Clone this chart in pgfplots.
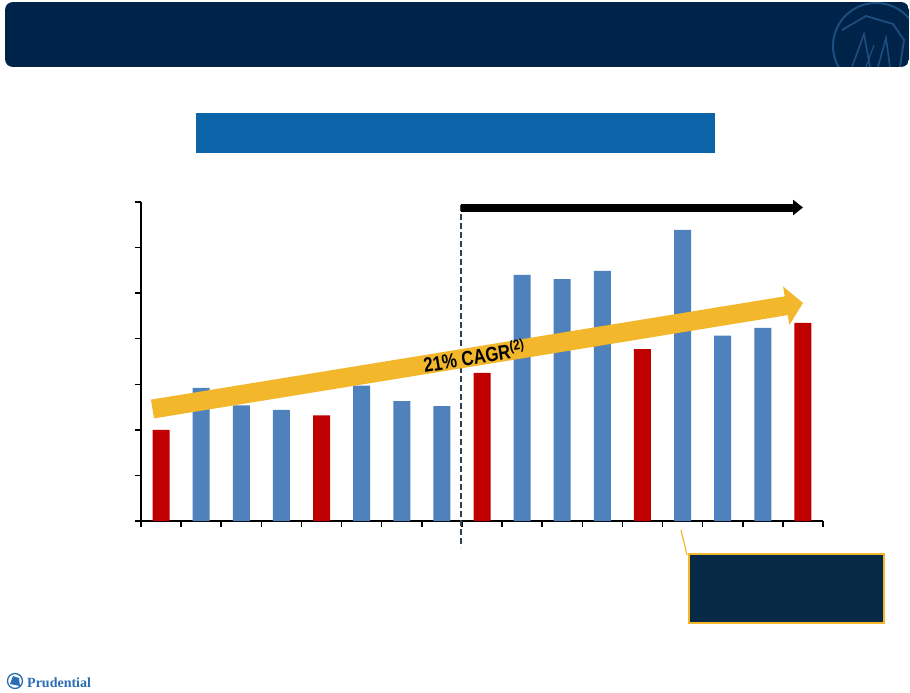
\documentclass[border=0pt]{standalone}
\usepackage{pgfplots}
\pgfplotsset{compat=1.18}
\usepackage{fontspec}
\setmainfont{Liberation Sans}
\newfontfamily\serifb{Liberation Serif}
\usetikzlibrary{arrows.meta}
\definecolor{navy}{HTML}{00234A}
\definecolor{boxblue}{HTML}{0B64A8}
\definecolor{barred}{HTML}{C00000}
\definecolor{barblue}{HTML}{4F81BD}
\definecolor{gold}{HTML}{F2B72A}
\definecolor{slate}{HTML}{2E4154}
\definecolor{callout}{HTML}{062A45}
\definecolor{logoblue}{HTML}{1D4E7E}
\definecolor{prublue}{HTML}{2A6EB4}
\begin{document}
\begin{tikzpicture}[x=1pt,y=1pt]
\path[use as bounding box,fill=white] (0,0) rectangle (910,-693);
% banner
\begin{scope}
\path[clip,rounded corners=8pt] (5,-2) rectangle (909,-67);
\fill[navy] (5,-2) rectangle (909,-67);
\draw[logoblue,line width=2pt] (876,-46) circle (43);
\draw[logoblue,line width=1.8pt] (842,-30) -- (866,-16) -- (893,-24) -- (904,-40) -- (900,-67);
\draw[logoblue,line width=1.6pt] (852,-67) -- (864,-34) -- (870,-67);
\draw[logoblue,line width=1.6pt] (878,-67) -- (886,-38) -- (890,-67);
\draw[logoblue,line width=1.2pt] (866,-67) -- (874,-45);
\end{scope}
% blue title box
\fill[boxblue] (196,-113) rectangle (715,-153);
\begin{axis}[
  at={(141pt,-521pt)}, anchor=south west,
  width=682pt, height=319pt, scale only axis,
  xmin=0, xmax=17, ymin=0, ymax=7,
  axis lines=left, axis line style={-, black, line width=1.8pt},
  xtick={0,1,...,17}, ytick={0,1,...,7},
  xticklabels={}, yticklabels={},
  tick align=outside, tick style={black, line width=1.5pt},
  major tick length=6pt,
  ybar, bar width=17pt, bar shift=0pt,
  clip=false,
]
\addplot[fill=barred, draw=none] coordinates {
 (0.5,2.00) (4.5,2.32) (8.5,3.25) (12.5,3.77) (16.5,4.35)};
\addplot[fill=barblue, draw=none] coordinates {
 (1.5,2.92) (2.5,2.54) (3.5,2.44) (5.5,2.97) (6.5,2.63) (7.5,2.52)
 (9.5,5.40) (10.5,5.31) (11.5,5.49) (13.5,6.39) (14.5,4.07) (15.5,4.24)};
\end{axis}
% dashed divider
\draw[slate, line width=2pt, dash pattern=on 6pt off 3pt] (461,-205) -- (461,-547);
% black arrow
\draw[black, line width=8pt, -{Triangle[width=15pt,length=10pt]}] (461,-207.5) -- (803,-207.5);
% gold CAGR arrow
\draw[gold, line width=19pt, -{Triangle[width=38pt,length=17pt]}] (152.5,-409) -- (803,-303);
\node[rotate=9.2, inner sep=0pt] at (474,-356) {\scalebox{0.82}[1]{\bfseries\fontsize{20.5}{22}\selectfont 21\% CAGR\textsuperscript{(2)}}};
% callout
\draw[gold, line width=1.2pt] (681,-530) -- (687,-555);
\draw[gold, line width=2pt, fill=callout] (689,-554) rectangle (884,-622.5);
% Prudential logo
\draw[prublue, line width=1.3pt, fill=white] (15,-681) circle (7.5);
\fill[prublue] (10,-684) -- (13,-676) -- (19,-678) -- (20,-686) -- cycle;
\node[anchor=base west, inner sep=0pt, text=prublue, font=\serifb\bfseries\fontsize{14}{15}\selectfont] at (27,-687) {Prudential};
\end{tikzpicture}
\end{document}
